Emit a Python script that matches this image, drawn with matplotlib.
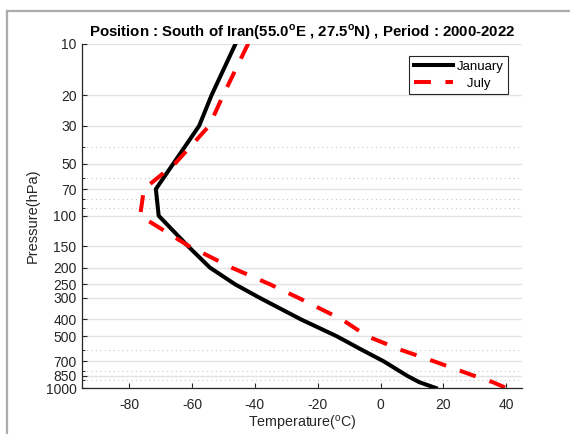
import matplotlib
matplotlib.use("Agg")
import matplotlib.pyplot as plt
from matplotlib.lines import Line2D
from matplotlib.ticker import FixedLocator, NullFormatter, FixedFormatter

plt.rcParams['font.family'] = ['Liberation Sans', 'DejaVu Sans']
plt.rcParams['mathtext.fontset'] = 'custom'
plt.rcParams['mathtext.rm'] = 'Liberation Sans'
plt.rcParams['mathtext.bf'] = 'Liberation Sans:bold'
plt.rcParams['axes.unicode_minus'] = False

# ---- data ----
pressure = [10, 20, 30, 50, 70, 100, 150, 200, 250, 300, 400, 500, 600, 700, 850, 925, 1000]
jan = [-46.1, -53.8, -57.7, -66.0, -71.5, -70.6, -61.3, -54.3, -46.3, -38.4,
       -25.3, -14.0, -6.0, 1.0, 8.5, 12.3, 17.6]
jul = [-42.1, -50.1, -54.5, -65.5, -75.3, -76.5, -61.0, -47.4, -35.2, -26.1,
       -12.3, -4.3, 6.4, 17.0, 29.8, 35.7, 40.0]
major_p = [10, 20, 30, 50, 70, 100, 150, 200, 250, 300, 400, 500, 700, 850, 1000]
minor_p = [40, 60, 80, 90, 600, 800, 900]
x_ticks = [-80, -60, -40, -20, 0, 20, 40]
series_labels = ['January', '   July']

W, H = 570, 434
fig = plt.figure(figsize=(W / 100, H / 100), dpi=100)
fig.patch.set_facecolor('white')

# outer grey frame (cropped MATLAB figure)
fx, fy = 7 / W, 1 - 11 / H
fig.add_artist(Line2D([fx, fx], [0, fy], transform=fig.transFigure, color='#ababab', lw=1.6))
fig.add_artist(Line2D([fx, 1], [fy, fy], transform=fig.transFigure, color='#ababab', lw=1.6))

l, r, t, b = 82, 522, 43.5, 388
ax = fig.add_axes([l / W, 1 - b / H, (r - l) / W, (b - t) / H])

ax.plot(jan, pressure, color='black', lw=2.9, label=series_labels[0], solid_joinstyle='round')
ax.plot(jul, pressure, color='#ff0000', lw=2.9, dashes=(4.2, 3.6), label=series_labels[1],
        dash_capstyle='butt')

ax.set_yscale('log')
ax.set_ylim(1000, 10)
ax.set_xlim(-95, 45)
ax.yaxis.set_major_locator(FixedLocator(major_p))
ax.yaxis.set_minor_locator(FixedLocator(minor_p))
ax.yaxis.set_major_formatter(FixedFormatter([str(p) for p in major_p]))
ax.yaxis.set_minor_formatter(NullFormatter())
ax.set_xticks(x_ticks)

ax.grid(True, axis='y', which='major', color='#e3e3e3', lw=1.0, ls='-')
ax.grid(True, axis='y', which='minor', color='#c8c8c8', lw=0.8, ls=(0, (1, 3)))
ax.set_axisbelow(True)

for s in ['top', 'right']:
    ax.spines[s].set_visible(False)
for s in ['left', 'bottom']:
    ax.spines[s].set_color('#262626')
    ax.spines[s].set_linewidth(0.9)

ax.tick_params(axis='both', which='major', direction='in', length=3.5, width=0.8,
               colors='#262626', labelsize=10)
ax.tick_params(axis='y', which='minor', direction='in', length=2, width=0.7, colors='#262626')
ax.tick_params(axis='y', which='major', pad=4)
ax.tick_params(axis='x', which='major', pad=7)

ax.set_title(r'Position : South of Iran(55.0$^{\mathbf{o}}$E , 27.5$^{\mathbf{o}}$N) , Period : 2000-2022',
             fontsize=10.8, fontweight='bold', pad=5, color='black')
ax.set_xlabel(r'Temperature($^{\mathrm{o}}$C)', fontsize=10.3, color='#262626', labelpad=1.5)
ax.set_ylabel('Pressure(hPa)', fontsize=10.5, color='#262626', labelpad=4)

leg = ax.legend(loc='upper right', bbox_to_anchor=(0.968, 0.964), borderaxespad=0,
                fontsize=9.5, handlelength=3.0, handletextpad=0.25, labelspacing=0.35,
                borderpad=0.35, fancybox=False, framealpha=1, edgecolor='#262626')
leg.get_frame().set_linewidth(0.8)

fig.savefig('out.png', dpi=100, facecolor='white')
